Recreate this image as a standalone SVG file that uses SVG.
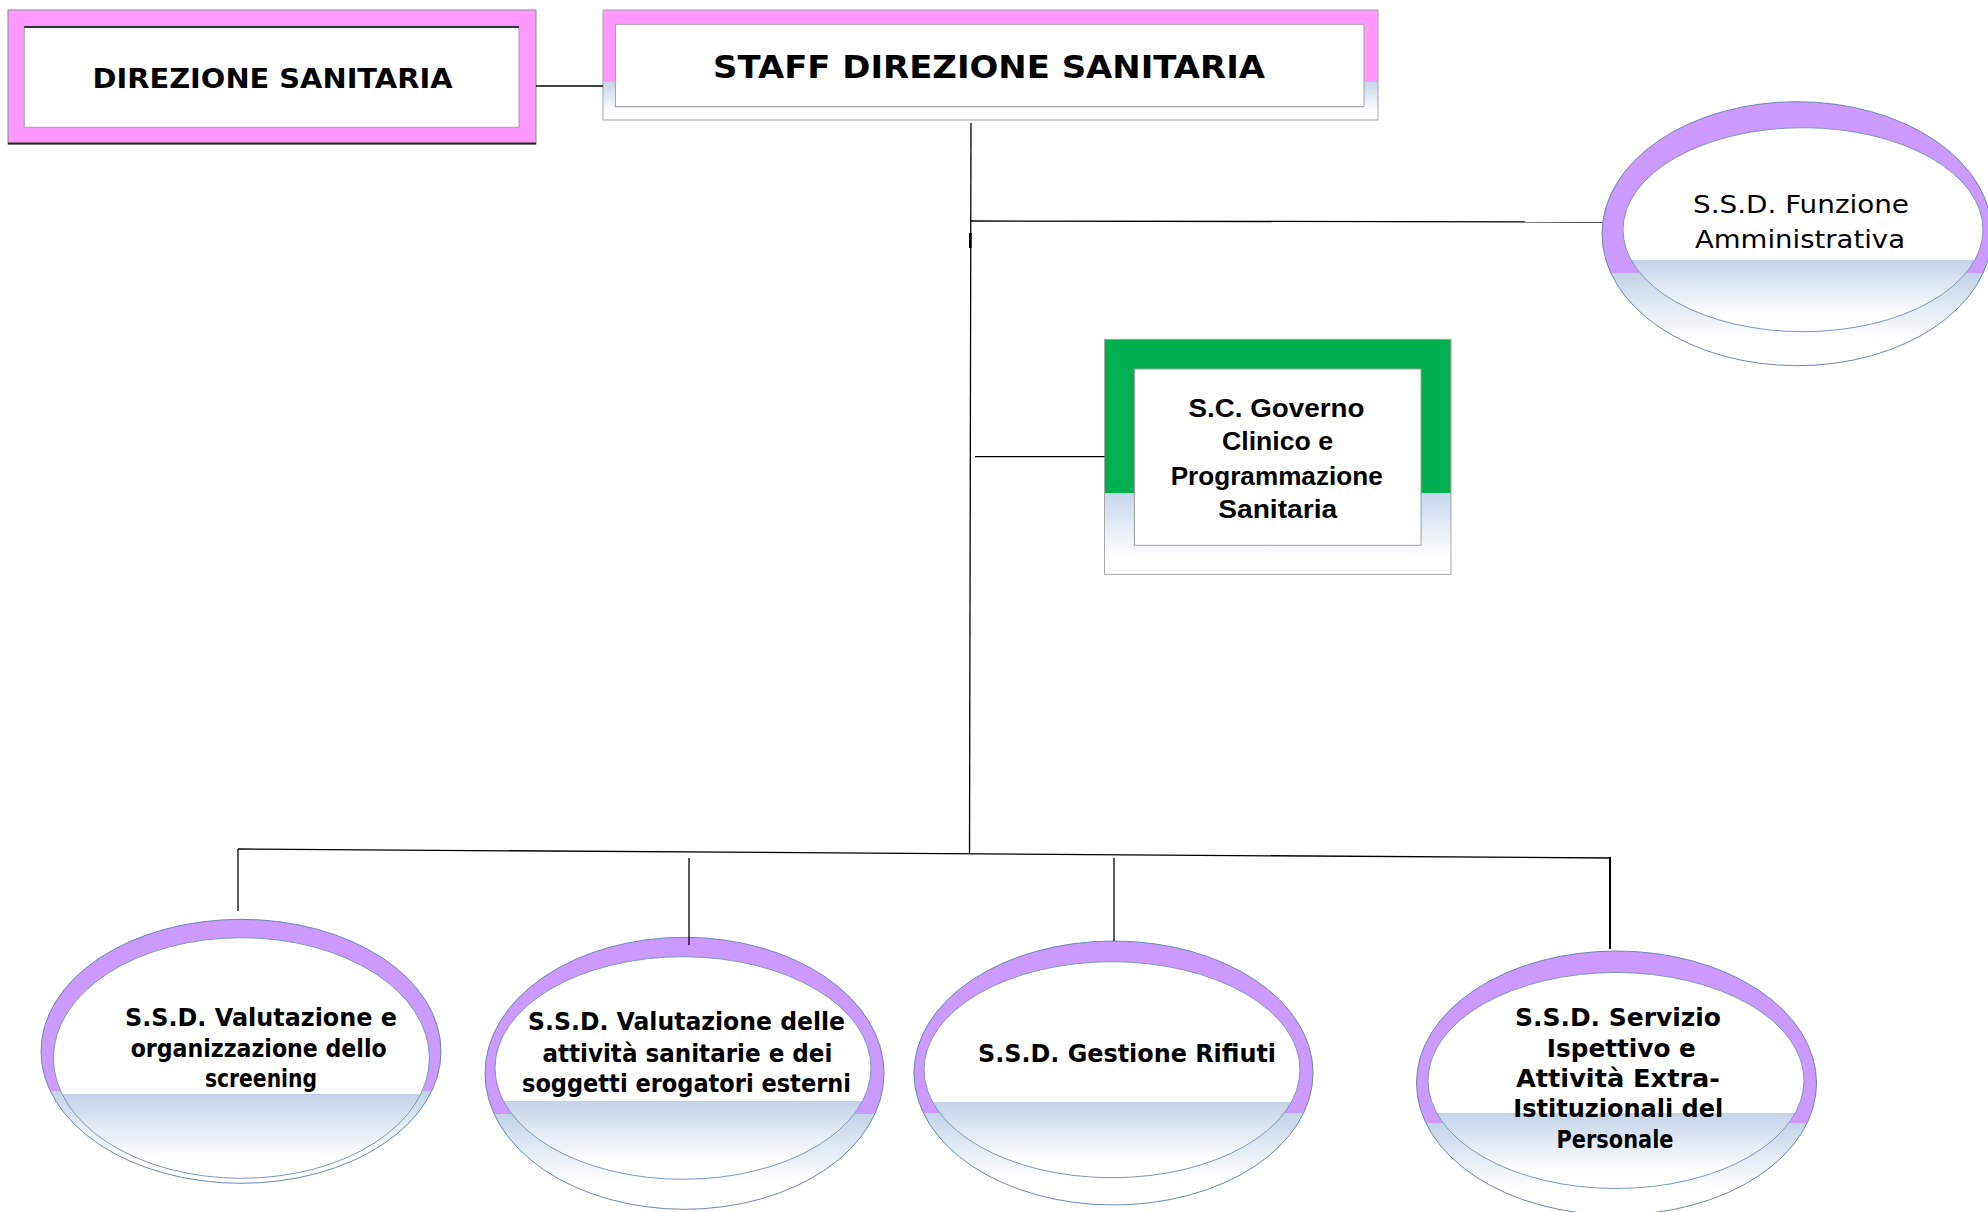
<svg xmlns="http://www.w3.org/2000/svg" width="1988" height="1212" viewBox="0 0 1988 1212">
<defs>
<linearGradient id="gPink" x1="0" y1="0" x2="0" y2="1">
<stop offset="0" stop-color="#FF99FF"/><stop offset="0.655" stop-color="#FF99FF"/><stop offset="0.655" stop-color="#C6D6EA"/><stop offset="0.93" stop-color="#FFFFFF"/>
</linearGradient>
<linearGradient id="gGreen" x1="0" y1="0" x2="0" y2="1">
<stop offset="0" stop-color="#00B050"/><stop offset="0.653" stop-color="#00B050"/><stop offset="0.653" stop-color="#C6D6EA"/><stop offset="0.93" stop-color="#FFFFFF"/>
</linearGradient>
<linearGradient id="gPurple" x1="0" y1="0" x2="0" y2="1">
<stop offset="0" stop-color="#CC99FF"/><stop offset="0.65" stop-color="#CC99FF"/><stop offset="0.65" stop-color="#C3D3E7"/><stop offset="0.9" stop-color="#FFFFFF"/>
</linearGradient>
<linearGradient id="gInner" x1="0" y1="0" x2="0" y2="1">
<stop offset="0" stop-color="#FFFFFF"/><stop offset="0.65" stop-color="#FFFFFF"/><stop offset="0.65" stop-color="#C3D3E7"/><stop offset="0.92" stop-color="#FFFFFF"/>
</linearGradient>
</defs>
<style>
.outerE{fill:url(#gPurple);stroke:#6A88B0;stroke-width:1}
.innerE{fill:url(#gInner);stroke:#7C98BC;stroke-width:1}
.box{stroke:#A6A6A6;stroke-width:1}
.inbox{fill:#FFFFFF;stroke:#A0A0A0;stroke-width:1}
.t{font-family:"DejaVu Sans","Liberation Sans",sans-serif;font-weight:bold;font-size:24px;fill:#000;text-anchor:middle}
.tg{font-family:"Liberation Sans",Arial,sans-serif;font-weight:bold;font-size:26px;fill:#000;text-anchor:middle}
.tr{font-family:"DejaVu Sans","Liberation Sans",sans-serif;font-size:25px;fill:#000;text-anchor:middle}
.big1{font-size:27px}
.big2{font-size:32px}
.conn line{stroke:#000;stroke-width:1.3;fill:none}
</style>
<rect width="1988" height="1212" fill="#FFFFFF"/>

<g id="direzione-sanitaria">
<rect x="8" y="10" width="528" height="134" fill="#FF99FF" stroke="#8C8C8C" stroke-width="1"/>
<line x1="8" y1="143.5" x2="536" y2="143.5" stroke="#262626" stroke-width="2"/>
<rect x="24.2" y="26.7" width="494.8" height="100.6" fill="#FFFFFF" stroke="#A0A0A0" stroke-width="1"/>
<line x1="24.2" y1="27" x2="519" y2="27" stroke="#333" stroke-width="2"/>
<text class="t big1" x="272.5" y="88.3" textLength="360" lengthAdjust="spacingAndGlyphs">DIREZIONE SANITARIA</text>
</g>

<g id="staff-direzione-sanitaria">
<rect class="box" x="603" y="10" width="775" height="110" fill="url(#gPink)"/>
<rect class="inbox" x="615.4" y="24.3" width="748.6" height="82.4"/>
<text class="t big2" x="989" y="78.3" textLength="552" lengthAdjust="spacingAndGlyphs">STAFF DIREZIONE SANITARIA</text>
</g>

<g id="ssd-funzione-amministrativa">
<ellipse class="outerE" cx="1797" cy="233.7" rx="195" ry="132"/>
<ellipse class="innerE" cx="1803" cy="229.7" rx="180" ry="102"/>
<text class="tr" x="1801" y="213.3" textLength="216" lengthAdjust="spacingAndGlyphs">S.S.D. Funzione</text>
<text class="tr" x="1800" y="248.3" textLength="210" lengthAdjust="spacingAndGlyphs">Amministrativa</text>
</g>

<g id="sc-governo-clinico">
<rect class="box" x="1104.5" y="339.3" width="346.5" height="235" fill="url(#gGreen)"/>
<rect class="inbox" x="1134.4" y="369" width="286.6" height="176.3"/>
<text class="tg" x="1276.5" y="416.7" textLength="176" lengthAdjust="spacingAndGlyphs">S.C. Governo</text>
<text class="tg" x="1277.5" y="450" textLength="111" lengthAdjust="spacingAndGlyphs">Clinico e</text>
<text class="tg" x="1276.7" y="485" textLength="212" lengthAdjust="spacingAndGlyphs">Programmazione</text>
<text class="tg" x="1277.7" y="518.3" textLength="119" lengthAdjust="spacingAndGlyphs">Sanitaria</text>
</g>

<g id="ssd-screening">
<ellipse class="outerE" cx="241" cy="1051.3" rx="200" ry="132"/>
<ellipse class="innerE" cx="241.4" cy="1058" rx="188" ry="120.3"/>
<text class="t" x="261" y="1026" textLength="272" lengthAdjust="spacingAndGlyphs">S.S.D. Valutazione e</text>
<text class="t" x="258.7" y="1056.7" textLength="256" lengthAdjust="spacingAndGlyphs">organizzazione dello</text>
<text class="t" x="261" y="1086.5" textLength="112" lengthAdjust="spacingAndGlyphs">screening</text>
</g>

<g id="ssd-valutazione-attivita">
<ellipse class="outerE" cx="684.5" cy="1073.3" rx="199.5" ry="136"/>
<ellipse class="innerE" cx="683" cy="1068" rx="188" ry="111.3"/>
<text class="t" x="686.6" y="1030" textLength="317" lengthAdjust="spacingAndGlyphs">S.S.D. Valutazione delle</text>
<text class="t" x="687.4" y="1061.7" textLength="290" lengthAdjust="spacingAndGlyphs">attività sanitarie e dei</text>
<text class="t" x="686.5" y="1091.7" textLength="329" lengthAdjust="spacingAndGlyphs">soggetti erogatori esterni</text>
</g>

<g id="ssd-gestione-rifiuti">
<ellipse class="outerE" cx="1113.5" cy="1073" rx="199.5" ry="132"/>
<ellipse class="innerE" cx="1112" cy="1069.7" rx="188" ry="108"/>
<text class="t" x="1127" y="1061.7" textLength="298" lengthAdjust="spacingAndGlyphs">S.S.D. Gestione Rifiuti</text>
</g>

<g id="ssd-servizio-ispettivo">
<ellipse class="outerE" cx="1616.5" cy="1083" rx="200" ry="132"/>
<ellipse class="innerE" cx="1616" cy="1080.5" rx="188" ry="108"/>
<text class="t" x="1618" y="1026" textLength="206" lengthAdjust="spacingAndGlyphs">S.S.D. Servizio</text>
<text class="t" x="1621.3" y="1056.7" textLength="149" lengthAdjust="spacingAndGlyphs">Ispettivo e</text>
<text class="t" x="1618" y="1086.7" textLength="204" lengthAdjust="spacingAndGlyphs">Attività Extra-</text>
<text class="t" x="1618.3" y="1117.3" textLength="210" lengthAdjust="spacingAndGlyphs">Istituzionali del</text>
<text class="t" x="1615" y="1148" textLength="117" lengthAdjust="spacingAndGlyphs">Personale</text>
</g>

<g id="connectors" class="conn">
<line x1="536" y1="86" x2="603" y2="86"/>
<line x1="971" y1="123" x2="969.5" y2="854"/>
<line x1="970.3" y1="233" x2="970.3" y2="248" style="stroke-width:2.6"/>
<line x1="971" y1="221" x2="1602" y2="222"/>
<line x1="975" y1="456.7" x2="1104.5" y2="456.7"/>
<line x1="238" y1="849" x2="1610" y2="858"/>
<line x1="238" y1="849" x2="238" y2="911"/>
<line x1="689" y1="858" x2="689" y2="945"/>
<line x1="1114" y1="858" x2="1114" y2="941"/>
<line x1="1610" y1="857" x2="1610" y2="949" style="stroke-width:2"/>
</g>
</svg>
